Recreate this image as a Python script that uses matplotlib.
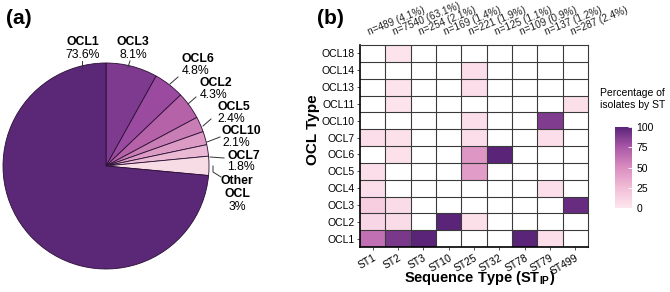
import numpy as np
import matplotlib
matplotlib.use("Agg")
import matplotlib.pyplot as plt
from matplotlib.colors import LinearSegmentedColormap

plt.rcParams['font.family'] = ['Liberation Sans', 'DejaVu Sans']
plt.rcParams['mathtext.fontset'] = 'custom'
plt.rcParams['mathtext.rm'] = 'Liberation Sans'
plt.rcParams['mathtext.bf'] = 'Liberation Sans:bold'

# ---------------- data ----------------
pie_labels = ["OCL3", "OCL6", "OCL2", "OCL5", "OCL10", "OCL7", "Other\nOCL", "OCL1"]
pie_pct_text = ["8.1%", "4.8%", "4.3%", "2.4%", "2.1%", "1.8%", "3%", "73.6%"]
pie_values = [8.1, 4.8, 4.3, 2.4, 2.1, 1.8, 3.0, 73.6]
pie_colors = ["#7d3a8e", "#9a4a9f", "#b562a8", "#c97db5", "#db9bc4", "#eab9d4", "#f8dce5", "#5b2777"]

st_labels = ["ST1", "ST2", "ST3", "ST10", "ST25", "ST32", "ST78", "ST79", "ST499"]
st_counts = ["n=489 (4.1%)", "n=7540 (63.1%)", "n=254 (2.1%)", "n=169 (1.4%)", "n=221 (1.9%)",
             "n=125 (1.1%)", "n=109 (0.9%)", "n=137 (1.2%)", "n=287 (2.4%)"]
ocl_labels = ["OCL1", "OCL2", "OCL3", "OCL4", "OCL5", "OCL6", "OCL7", "OCL10", "OCL11", "OCL13", "OCL14", "OCL18"]
n = np.nan
# percentage of isolates by ST, one list per ST (ordered as ocl_labels)
pct_ST1   = [63, 10, 15, 5, 5, n, 5, n, n, n, n, n]
pct_ST2   = [90, 6, 6, n, n, 3, 3, n, 2, 2, n, 2]
pct_ST3   = [100, n, n, n, n, n, n, n, n, n, n, n]
pct_ST10  = [n, 100, n, n, n, n, n, n, n, n, n, n]
pct_ST25  = [n, 4, n, n, 42, 45, 5, 5, n, 5, 5, n]
pct_ST32  = [n, n, n, n, n, 100, n, n, n, n, n, n]
pct_ST78  = [100, n, n, n, n, n, n, n, n, n, n, n]
pct_ST79  = [5, n, n, 5, n, n, 5, 88, n, n, n, n]
pct_ST499 = [n, n, 96, n, n, n, n, n, 4, n, n, n]
heat = np.array([pct_ST1, pct_ST2, pct_ST3, pct_ST10, pct_ST25, pct_ST32,
                 pct_ST78, pct_ST79, pct_ST499], dtype=float).T

W, H = 670, 292
fig = plt.figure(figsize=(W / 100, H / 100), dpi=100)

def fx(px):
    return px / W

def fy(py):
    return 1 - py / H

# ---------------- panel (a): pie ----------------
R = 103.0
cx, cy = 106.0, 166.0
axp = fig.add_axes([fx(cx - R), fy(cy + R), 2 * R / W, 2 * R / H])
axp.pie(pie_values, colors=pie_colors, startangle=90, counterclock=False, radius=1,
        wedgeprops=dict(edgecolor="#2b0f35", linewidth=0.6))
axp.set_xlim(-1, 1)
axp.set_ylim(-1, 1)
axp.set_axis_off()

def d(px, py):
    return ((px - cx) / R, (cy - py) / R)

lab_fs = 8.8
# (name position, pct position, leader line points, ha)
label_spec = {
    "OCL1": ((83, 42), (83, 55), [(82, 61), (82, 67)], "center"),
    "OCL3": ((133, 42), (133, 55), [(130, 61), (128, 67)], "center"),
    "OCL6": ((182, 59), (182, 71), [(178, 77), (170, 84)], "left"),
    "OCL2": ((200, 83), (200, 95), [(196, 97), (188, 104)], "left"),
    "OCL5": ((217, 107), (217, 119), [(211, 119), (203, 126)], "left"),
    "OCL10": ((221, 131), (222, 143), [(220, 137), (207, 142)], "left"),
    "OCL7": ((227, 156), (227, 167), [(224, 158), (210, 157)], "left"),
}
for name, pct in zip(pie_labels, pie_pct_text):
    if name.startswith("Other"):
        continue
    (npos, ppos, line, ha) = label_spec[name]
    axp.text(*d(*npos), name, fontsize=lab_fs, fontweight="bold", ha=ha, va="center", clip_on=False)
    axp.text(*d(*ppos), pct, fontsize=lab_fs, ha=ha, va="center", clip_on=False)
    xs, ys = zip(*[d(*p) for p in line])
    axp.plot(xs, ys, color="#333333", lw=0.7, clip_on=False)
# Other OCL
axp.text(*d(237, 181), "Other", fontsize=lab_fs, fontweight="bold", ha="center", va="center", clip_on=False)
axp.text(*d(237, 194), "OCL", fontsize=lab_fs, fontweight="bold", ha="center", va="center", clip_on=False)
axp.text(*d(237, 207), pie_pct_text[6], fontsize=lab_fs, ha="center", va="center", clip_on=False)
xs, ys = zip(*[d(*p) for p in [(213, 166), (213, 172), (221, 177)]])
axp.plot(xs, ys, color="#333333", lw=0.7, clip_on=False)

fig.text(fx(6), fy(18), "(a)", fontsize=15, fontweight="bold", ha="left", va="center")
fig.text(fx(317), fy(18), "(b)", fontsize=15, fontweight="bold", ha="left", va="center")

# ---------------- panel (b): heatmap ----------------
cmap = LinearSegmentedColormap.from_list(
    "pk", [(0, "#fde6ee"), (0.25, "#f1bdd6"), (0.5, "#d98dc0"), (0.75, "#ab58a7"), (1, "#5a2479")])
axh = fig.add_axes([fx(360), fy(247), (588 - 360) / W, (247 - 45) / H])
nr, nc = heat.shape
masked = np.ma.masked_invalid(heat)
axh.set_facecolor("white")
mesh = axh.pcolormesh(np.arange(nc + 1), np.arange(nr + 1), masked, cmap=cmap, vmin=0, vmax=100)
for i in range(1, nc):
    axh.axvline(i, color="#3a3a3a", lw=0.8)
for j in range(1, nr):
    axh.axhline(j, color="#3a3a3a", lw=0.8)
axh.set_xlim(0, nc)
axh.set_ylim(0, nr)
axh.set_xticks(np.arange(nc) + 0.5)
axh.set_xticklabels(st_labels, rotation=30, ha="right", rotation_mode="anchor", fontsize=7.5)
axh.set_yticks(np.arange(nr) + 0.5)
axh.set_yticklabels(ocl_labels, fontsize=7.5)
axh.tick_params(length=2, width=0.6, pad=2, color="#333333")
for s in ["top", "right"]:
    axh.spines[s].set_color("#3a3a3a")
    axh.spines[s].set_linewidth(0.8)
for s in ["left", "bottom"]:
    axh.spines[s].set_color("black")
    axh.spines[s].set_linewidth(1.2)
fig.text(fx(313), fy(130), "OCL Type", fontsize=11, fontweight="bold", rotation=90,
         ha="center", va="center")
fig.text(fx(480), fy(278), r"Sequence Type (ST$_{\mathbf{IP}}$)", fontsize=10.5, fontweight="bold",
         ha="center", va="center")
for i, lab in enumerate(st_counts):
    axh.text(i + 0.4, nr + 0.45, lab, rotation=22, rotation_mode="anchor", ha="left", va="bottom",
             fontsize=7.2, color="#222222", clip_on=False)

# colorbar
axc = fig.add_axes([fx(615), fy(208), 17 / W, 81 / H])
cb = fig.colorbar(mesh, cax=axc, ticks=[0, 25, 50, 75, 100])
cb.outline.set_visible(False)
axc.tick_params(length=3, width=0.6, color="white", direction="in", labelsize=7.5, pad=3)
fig.text(fx(600), fy(93), "Percentage of", fontsize=7.5, ha="left", va="center")
fig.text(fx(600), fy(105), "isolates by ST", fontsize=7.5, ha="left", va="center")

fig.savefig("out.png", dpi=100)
